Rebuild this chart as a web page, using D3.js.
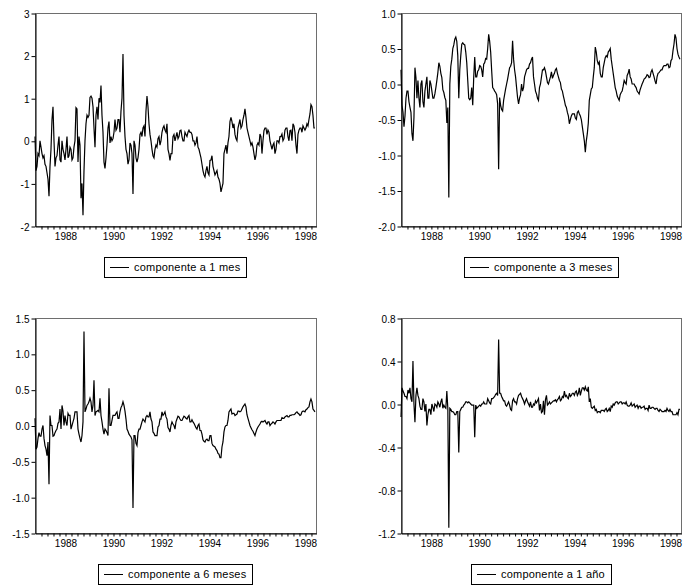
<!DOCTYPE html>
<html>
<head>
<meta charset="utf-8">
<script src="https://cdn.jsdelivr.net/npm/d3@7/dist/d3.min.js"></script>
<style>
    body { margin: 0; background: #fff; }
    svg text { font-family: Arial, "Liberation Sans", sans-serif; fill: #000; }
</style>
</head>
<body>
<svg id="chart" width="683" height="587"></svg>
<script>
//half-monthly observations, the first one is october 1986
var startYear = 1986.75,
    endYear = 1998.46,
    obsPerYear = 24;

var serie1mes = [
    0.1, -0.7, -0.6, -0.3, -0.35, 0.0, -0.15, -0.3, -0.4, -0.35, -0.55, -0.6,
    -0.75, -0.9, -1.3, -0.6, -0.2, 0.5, 0.8, 0.0, -0.6, -0.4, -0.35, -0.1,
    0.1, -0.45, -0.5, 0.0, -0.2, -0.3, -0.45, -0.2, 0.1, -0.4, -0.35, -0.15,
    -0.2, -0.45, -0.4, -0.15, 0.0, 0.78, 0.75, -0.5, 0.1, -0.1, -1.35, -1.0,
    -1.75, -0.7, 0.0, 0.4, 0.6, 0.55, 0.6, 1.02, 1.05, 1.0, 0.8, 0.3,
    -0.15, 0.6, 0.8, 0.5, 1.0, 0.9, 1.3, 0.6, 0.2, -0.5, -0.65, -0.4,
    -0.1, 0.3, 0.45, -0.05, 0.1, 0.0, 0.05, 0.2, 0.5, 0.25, 0.3, 0.5,
    0.5, 0.2, 0.7, 1.0, 2.04, 0.6, 0.1, -0.2, -0.3, -0.55, -0.45, -0.05,
    -0.1, -0.3, -1.25, 0.0, -0.1, -0.4, -0.5, -0.4, -0.2, 0.15, 0.2, 0.1,
    0.3, 0.35, 0.1, 0.7, 1.05, 0.8, 0.4, 0.15, 0.0, -0.2, -0.35, -0.4,
    -0.2, -0.1, -0.15, 0.05, 0.1, -0.1, 0.0, 0.2, 0.3, 0.35, 0.25, 0.2,
    0.4, -0.2, -0.3, -0.46, -0.3, -0.3, 0.1, 0.15, 0.0, 0.1, 0.2, 0.05,
    0.1, 0.24, 0.25, 0.1, 0.0, 0.0, 0.2, 0.15, 0.1, 0.2, 0.25, 0.2,
    0.2, 0.15, 0.0, 0.0, -0.1, -0.05, 0.1, -0.15, -0.2, -0.3, -0.4, -0.55,
    -0.7, -0.8, -0.85, -0.7, -0.6, -0.75, -0.8, -0.46, -0.45, -0.35, -0.6, -0.7,
    -0.8, -0.75, -0.7, -0.85, -0.9, -1.0, -1.2, -1.1, -1.0, -0.3, -0.2, -0.1,
    -0.3, -0.05, 0.1, 0.45, 0.55, 0.45, 0.3, 0.4, 0.15, 0.05, 0.0, 0.3,
    0.4, 0.5, 0.3, 0.35, 0.5, 0.6, 0.75, 0.55, 0.3, 0.2, 0.1, 0.0,
    -0.1, -0.05, -0.15, -0.3, -0.45, -0.35, -0.1, -0.05, -0.1, 0.16, 0.1, -0.3,
    0.0, 0.24, 0.3, 0.3, 0.15, 0.25, 0.2, 0.0, -0.1, -0.2, -0.1, -0.05,
    -0.3, -0.2, 0.0, 0.0, -0.05, 0.1, 0.1, 0.16, 0.0, 0.05, 0.25, 0.3,
    0.3, 0.1, 0.0, 0.24, 0.25, 0.0, 0.4, 0.35, 0.2, -0.1, -0.3, 0.15,
    0.25, 0.3, 0.3, 0.2, 0.35, 0.3, 0.25, 0.3, 0.4, 0.35, 0.5, 0.63,
    0.85, 0.8, 0.6, 0.3, 0.3
];

var serie3meses = [
    0.2, -0.3, -0.4, -0.6, -0.45, -0.2, -0.1, -0.1, -0.25, -0.33, -0.4, -0.7,
    -0.8, -0.47, 0.23, 0.09, -0.2, 0.05, -0.2, -0.33, 0.0, 0.05, -0.25, -0.33,
    -0.1, 0.0, 0.1, -0.2, -0.2, 0.05, 0.0, -0.1, -0.2, -0.2, -0.14, -0.05,
    0.05, 0.16, 0.3, 0.25, 0.15, 0.09, -0.08, -0.12, -0.19, -0.23, -0.55, -0.33,
    -1.6, 0.0, 0.25, 0.35, 0.5, 0.55, 0.63, 0.66, 0.6, 0.4, -0.2, 0.2,
    0.4, 0.56, 0.58, 0.56, 0.55, 0.45, 0.3, 0.05, -0.2, -0.22, -0.2, -0.05,
    -0.3, 0.1, 0.38, 0.1, 0.1, 0.18, 0.2, 0.26, 0.25, 0.2, 0.1, 0.28,
    0.3, 0.36, 0.35, 0.5, 0.7, 0.6, 0.45, 0.19, -0.05, -0.07, -0.1, -0.12,
    -0.15, -0.28, -1.2, -0.19, -0.3, -0.36, -0.38, -0.23, -0.15, -0.07, 0.0, 0.07,
    0.15, 0.23, 0.25, 0.3, 0.61, 0.35, 0.2, 0.1, -0.05, -0.19, -0.28, -0.2,
    -0.15, 0.0, -0.1, -0.05, 0.1, 0.15, 0.2, 0.22, 0.22, 0.28, 0.3, 0.35,
    0.38, 0.1, 0.0, -0.1, -0.14, -0.2, -0.23, -0.05, 0.0, 0.1, 0.2, 0.2,
    0.23, 0.18, 0.1, 0.02, 0.0, 0.05, 0.1, 0.17, 0.08, 0.12, 0.15, 0.2,
    0.22, 0.15, 0.1, 0.05, 0.02, -0.07, -0.1, -0.17, -0.23, -0.3, -0.33, -0.4,
    -0.45, -0.56, -0.5, -0.45, -0.42, -0.42, -0.42, -0.48, -0.5, -0.4, -0.38, -0.42,
    -0.45, -0.5, -0.6, -0.7, -0.8, -0.96, -0.8, -0.7, -0.55, -0.23, -0.15, -0.07,
    -0.05, 0.1, 0.23, 0.52, 0.45, 0.33, 0.28, 0.31, 0.15, 0.1, 0.1, 0.23,
    0.3, 0.37, 0.4, 0.38, 0.45, 0.47, 0.5, 0.35, 0.25, 0.15, 0.05, -0.05,
    -0.1, -0.17, -0.2, -0.23, -0.15, -0.12, -0.1, -0.03, 0.05, 0.02, 0.0, 0.12,
    0.15, 0.21, 0.1, 0.07, 0.0, 0.0, 0.0, -0.03, -0.05, -0.1, -0.12, -0.14,
    -0.08, -0.04, 0.0, 0.03, 0.07, 0.08, 0.1, 0.13, 0.12, 0.09, 0.1, 0.17,
    0.2, 0.15, 0.1, 0.04, 0.0, 0.1, 0.15, 0.16, 0.18, 0.2, 0.2, 0.24,
    0.26, 0.26, 0.26, 0.28, 0.28, 0.23, 0.24, 0.33, 0.35, 0.47, 0.56, 0.7,
    0.65, 0.5, 0.42, 0.38, 0.35
];

var serie6meses = [
    0.1, -0.33, -0.3, -0.18, -0.1, -0.15, -0.15, -0.05, 0.0, -0.18, -0.28, -0.33,
    -0.42, -0.23, -0.82, 0.14, 0.0, 0.0, -0.15, -0.14, -0.1, -0.07, -0.05, 0.03,
    0.05, 0.23, -0.05, 0.28, 0.2, 0.0, 0.14, 0.05, 0.0, 0.17, 0.14, 0.14,
    -0.05, 0.0, 0.05, 0.1, 0.19, 0.19, 0.19, -0.05, -0.12, -0.18, -0.23, -0.14,
    0.05, 1.31, 0.19, 0.23, 0.28, 0.3, 0.33, 0.38, 0.33, 0.19, 0.28, 0.63,
    0.14, 0.19, 0.2, 0.21, 0.19, 0.38, 0.14, 0.05, -0.05, -0.12, -0.05, -0.07,
    -0.1, -0.14, 0.52, 0.0, 0.0, 0.07, 0.14, 0.14, 0.14, 0.17, 0.19, 0.1,
    0.1, 0.19, 0.25, 0.28, 0.33, 0.28, 0.2, 0.09, -0.05, -0.08, -0.12, -0.14,
    -0.16, -0.2, -1.15, -0.14, -0.14, -0.25, -0.28, -0.1, -0.05, -0.05, 0.0, 0.05,
    0.09, 0.07, 0.05, 0.12, 0.14, 0.12, 0.12, 0.19, 0.09, 0.05, -0.09, -0.11,
    -0.14, -0.14, -0.14, -0.02, 0.0, 0.09, 0.09, 0.19, 0.14, 0.16, 0.19, 0.12,
    0.09, -0.03, -0.05, -0.09, 0.0, 0.05, 0.02, 0.0, -0.05, 0.05, 0.09, 0.13,
    0.12, 0.09, 0.07, 0.07, 0.1, 0.13, 0.12, 0.1, 0.09, 0.12, 0.14, 0.05,
    0.05, 0.08, 0.05, 0.03, 0.0, -0.03, -0.05, 0.0, 0.02, -0.07, -0.07, -0.12,
    -0.2, -0.22, -0.23, -0.2, -0.19, -0.21, -0.21, -0.14, -0.14, -0.25, -0.28, -0.29,
    -0.3, -0.33, -0.35, -0.39, -0.4, -0.45, -0.45, -0.3, -0.23, -0.09, -0.02, 0.0,
    0.0, 0.07, 0.19, 0.21, 0.23, 0.16, 0.17, 0.17, 0.14, 0.15, 0.16, 0.2,
    0.2, 0.19, 0.2, 0.23, 0.26, 0.28, 0.3, 0.26, 0.15, 0.1, 0.05, 0.0,
    -0.03, -0.06, -0.08, -0.11, -0.14, -0.09, -0.05, -0.02, 0.0, 0.02, 0.05, 0.06,
    0.05, 0.06, 0.07, 0.04, 0.02, 0.05, 0.05, 0.0, 0.02, 0.03, 0.05, 0.04,
    0.02, 0.05, 0.07, 0.07, 0.07, 0.07, 0.07, 0.11, 0.1, 0.1, 0.12, 0.13,
    0.14, 0.12, 0.12, 0.14, 0.14, 0.15, 0.15, 0.15, 0.16, 0.18, 0.19, 0.17,
    0.16, 0.14, 0.15, 0.19, 0.2, 0.2, 0.19, 0.22, 0.23, 0.25, 0.26, 0.33,
    0.37, 0.33, 0.23, 0.21, 0.19
];

var serie1ano = [
    -0.12, 0.15, 0.12, 0.1, 0.07, 0.07, 0.05, 0.13, 0.1, 0.15, 0.05, 0.02,
    0.4, 0.0, -0.17, 0.08, 0.15, 0.08, 0.05, -0.02, -0.05, -0.05, 0.05, 0.02,
    -0.07, 0.0, -0.2, -0.1, -0.05, -0.05, -0.1, 0.0, -0.03, -0.07, 0.0, -0.01,
    -0.03, 0.02, 0.0, -0.03, 0.02, 0.05, -0.04, -0.01, -0.03, -0.04, 0.12, -0.04,
    -1.15, -0.04, -0.05, -0.07, -0.07, -0.08, -0.1, -0.1, -0.07, -0.07, -0.45, -0.07,
    -0.05, -0.03, -0.03, -0.01, 0.0, 0.02, 0.02, 0.01, 0.02, 0.01, 0.0, -0.01,
    -0.01, -0.01, -0.31, -0.01, -0.04, -0.03, -0.02, -0.01, -0.02, 0.0, 0.0, 0.02,
    0.0, 0.0, 0.0, 0.05, 0.03, 0.01, 0.0, 0.05, 0.05, 0.06, 0.07, 0.09,
    0.1, 0.08, 0.6, 0.1, 0.1, 0.07, 0.05, 0.03, 0.03, -0.01, -0.02, 0.0,
    0.02, -0.01, -0.05, -0.06, 0.03, 0.05, 0.02, 0.02, 0.0, 0.05, 0.08, 0.09,
    0.1, 0.07, 0.05, 0.03, 0.0, 0.03, 0.05, 0.02, 0.0, -0.02, 0.02, -0.03,
    -0.03, 0.0, -0.01, 0.03, 0.01, 0.03, 0.05, -0.06, 0.0, -0.08, -0.07, 0.03,
    -0.1, 0.04, 0.08, -0.01, 0.0, 0.02, 0.0, 0.01, 0.02, 0.03, 0.03, 0.04,
    0.02, 0.04, 0.05, 0.07, 0.03, 0.04, 0.07, 0.06, 0.12, 0.07, 0.08, 0.06,
    0.05, 0.1, 0.07, 0.08, 0.1, 0.1, 0.08, 0.11, 0.12, 0.08, 0.1, 0.15,
    0.08, 0.12, 0.15, 0.15, 0.13, 0.16, 0.13, 0.12, 0.16, 0.02, 0.05, -0.03,
    -0.04, -0.03, -0.02, -0.06, -0.05, -0.08, -0.07, -0.07, -0.08, -0.06, -0.06, -0.06,
    -0.07, -0.05, -0.04, -0.07, -0.06, -0.04, -0.07, -0.02, -0.03, 0.0, -0.01, 0.01,
    0.02, 0.02, 0.0, 0.01, 0.02, 0.02, 0.0, 0.01, 0.01, 0.0, 0.02, -0.01,
    -0.02, -0.02, -0.01, 0.01, -0.02, -0.01, 0.0, -0.03, -0.02, -0.01, -0.04, -0.02,
    -0.02, -0.04, -0.03, -0.03, -0.02, -0.05, -0.04, -0.04, -0.06, -0.01, -0.04, -0.04,
    -0.03, -0.03, -0.04, -0.05, -0.04, -0.04, -0.06, -0.07, -0.05, -0.06, -0.07, -0.07,
    -0.07, -0.06, -0.07, -0.04, -0.06, -0.07, -0.05, -0.07, -0.07, -0.1, -0.1, -0.1,
    -0.1, -0.08, -0.1, -0.05, -0.05
];

//tick labels
var yTicks1mes = [-2, -1, 0, 1, 2, 3];
var yTicks3meses = [-2.0, -1.5, -1.0, -0.5, 0.0, 0.5, 1.0];
var yTicks6meses = [-1.5, -1.0, -0.5, 0.0, 0.5, 1.0, 1.5];
var yTicks1ano = [-1.2, -0.8, -0.4, 0.0, 0.4, 0.8];
var yearLabels = [1988, 1990, 1992, 1994, 1996, 1998];
var legendLabels = ['componente a 1 mes', 'componente a 3 meses', 'componente a 6 meses', 'componente a 1 año'];

(function () {
    var svg = d3.select('#chart');

    //plain hyphen for negative numbers, like the original output
    function fmt(spec) {
        var f = d3.format(spec);
        return function (d) { return f(d).replace('\u2212', '-'); };
    }

    //panel frames
    var panels = [
        { data: serie1mes, ticks: yTicks1mes, fmt: fmt('d'), label: legendLabels[0], x0: 35, x1: 316, y0: 13, y1: 226 },
        { data: serie3meses, ticks: yTicks3meses, fmt: fmt('.1f'), label: legendLabels[1], x0: 401, x1: 681, y0: 13, y1: 226 },
        { data: serie6meses, ticks: yTicks6meses, fmt: fmt('.1f'), label: legendLabels[2], x0: 35, x1: 316, y0: 318, y1: 533 },
        { data: serie1ano, ticks: yTicks1ano, fmt: fmt('.1f'), label: legendLabels[3], x0: 401, x1: 681, y0: 318, y1: 533 }
    ];

    //quarterly ticks on the time axis
    var quarterTicks = d3.range(1987, endYear, 0.25);

    panels.forEach(function (p) {
        var g = svg.append('g');

        var x = d3.scaleLinear().domain([startYear, endYear]).range([p.x0, p.x1]);
        var y = d3.scaleLinear().domain([d3.min(p.ticks), d3.max(p.ticks)]).range([p.y1, p.y0]);

        //grey box round the plot
        g.append('rect')
            .attr('x', p.x0 + 0.5)
            .attr('y', p.y0 + 0.5)
            .attr('width', p.x1 - p.x0)
            .attr('height', p.y1 - p.y0)
            .attr('fill', 'none')
            .attr('stroke', '#6e6e6e');

        //series line
        var line = d3.line()
            .x(function (d, i) { return x(startYear + i / obsPerYear); })
            .y(function (d) { return y(d); });

        g.append('path')
            .datum(p.data)
            .attr('d', line)
            .attr('fill', 'none')
            .attr('stroke', '#000')
            .attr('stroke-width', 1.2)
            .attr('stroke-linejoin', 'miter');

        //left axis
        var yAxis = d3.axisLeft(y)
            .tickValues(p.ticks)
            .tickFormat(p.fmt)
            .tickSize(4)
            .tickSizeOuter(0)
            .tickPadding(2);

        var ya = g.append('g')
            .attr('transform', 'translate(' + (p.x0 + 0.5) + ',0.5)')
            .call(yAxis);
        ya.select('.domain').attr('stroke', '#000');
        ya.selectAll('text').attr('font-size', 10).attr('dy', '0.35em');

        //bottom axis
        var xAxis = d3.axisBottom(x)
            .tickValues(quarterTicks)
            .tickFormat(function (d) { return yearLabels.indexOf(d) >= 0 ? d : ''; })
            .tickSize(3)
            .tickSizeOuter(0)
            .tickPadding(3);

        var xa = g.append('g')
            .attr('transform', 'translate(0.5,' + (p.y1 + 0.5) + ')')
            .call(xAxis);
        xa.select('.domain').attr('stroke', '#000');
        xa.selectAll('text').attr('font-size', 10);

        //legend box under the plot
        var cx = (p.x0 + p.x1) / 2,
            ly = p.y1 + 31;
        var lg = g.append('g');
        var txt = lg.append('text')
            .attr('y', ly + 14)
            .attr('font-size', 11)
            .attr('letter-spacing', 0.2)
            .text(p.label);
        var tw = txt.node().getComputedTextLength();
        var bw = tw + 36,
            bx = Math.round(cx - bw / 2);
        txt.attr('x', bx + 30);
        lg.insert('rect', 'text')
            .attr('x', bx + 0.5)
            .attr('y', ly + 0.5)
            .attr('width', Math.round(bw))
            .attr('height', 20)
            .attr('fill', '#fff')
            .attr('stroke', '#000');
        lg.append('line')
            .attr('x1', bx + 6)
            .attr('x2', bx + 25)
            .attr('y1', ly + 10.5)
            .attr('y2', ly + 10.5)
            .attr('stroke', '#000');
    });
})();
</script>
</body>
</html>
